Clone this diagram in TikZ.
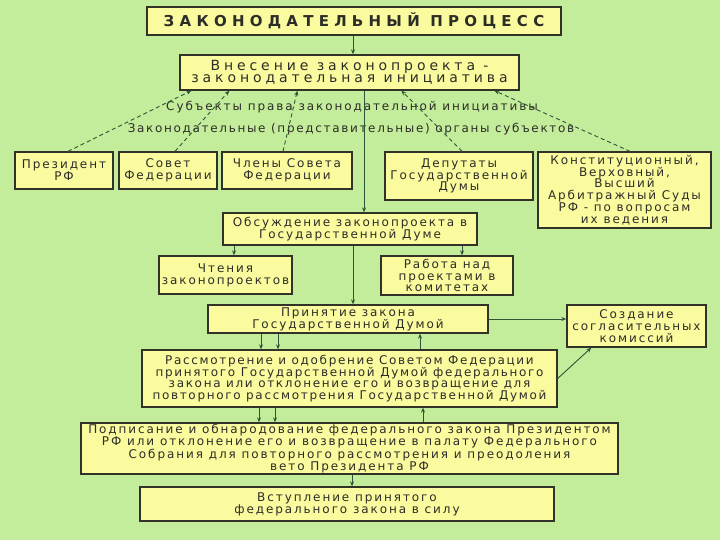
\documentclass[tikz,border=0pt]{standalone}
\usepackage{fontspec}
\setmainfont{DejaVu Sans}[LetterSpace=16]
\usetikzlibrary{arrows.meta,calc}
\definecolor{bg}{RGB}{195,236,155}
\definecolor{boxfill}{RGB}{250,250,158}
\definecolor{boxline}{RGB}{50,50,40}
\definecolor{conn}{RGB}{45,85,55}
\definecolor{txt}{RGB}{45,45,40}
\begin{document}
\begin{tikzpicture}[x=1pt,y=-1pt,
  box/.style={draw=boxline, fill=boxfill, line width=1.3pt, align=center, inner sep=0pt, text=txt, font=\fontsize{12}{11.8}\selectfont},
  lbl/.style={inner sep=0pt, text=txt, font=\fontsize{12}{12}\selectfont\addfontfeature{LetterSpace=16}},
  arr/.style={draw=conn, line width=0.9pt, -{Stealth[length=5pt,width=4pt]}},
  darr/.style={draw=conn, line width=0.9pt, dashed, dash pattern=on 4pt off 3pt, -{Stealth[length=5pt,width=4pt]}}]
\fill[bg] (0,0) rectangle (720,540);
\useasboundingbox (0,0) rectangle (720,540);

\node[box, minimum width=414pt, minimum height=28pt, font=\fontsize{15}{16}\selectfont\bfseries\addfontfeature{LetterSpace=35}] (title) at (354,21) {ЗАКОНОДАТЕЛЬНЫЙ ПРОЦЕСС};
\node[box, minimum width=339pt, minimum height=35pt, font=\fontsize{14}{12.5}\selectfont\addfontfeature{LetterSpace=28}] (vnes) at (349.5,72.5) {Внесение законопроекта -\\законодательная инициатива};

\node[lbl] (subj) at (352,107) {Субъекты права законодательной инициативы};
\node[lbl, font=\fontsize{12}{12}\selectfont\addfontfeature{LetterSpace=14}] (organ) at (351,129) {Законодательные (представительные) органы субъектов};

\node[box, minimum width=98pt, minimum height=37pt] (pres) at (64,170.5) {Президент\\РФ};
\node[box, minimum width=98pt, minimum height=37pt] (sovet) at (168,170.5) {Совет\\Федерации};
\node[box, minimum width=130pt, minimum height=37pt] (chleny) at (287,170.5) {Члены Совета\\Федерации};
\node[box, minimum width=148pt, minimum height=48pt] (deput) at (459,176) {Депутаты\\Государственной\\Думы};
\node[box, minimum width=173pt, minimum height=76pt] (konst) at (624.5,190) {Конституционный,\\Верховный,\\Высший\\Арбитражный Суды\\РФ - по вопросам\\их ведения};

\node[box, minimum width=254pt, minimum height=32pt] (obsuzh) at (350,229) {Обсуждение законопроекта в\\Государственной Думе};
\node[box, minimum width=133pt, minimum height=38pt] (chten) at (225.5,275) {Чтения\\законопроектов};
\node[box, minimum width=132pt, minimum height=39pt] (rabota) at (447,275.5) {Работа над\\проектами в\\комитетах};

\node[box, minimum width=280pt, minimum height=28pt] (prin) at (348,319) {Принятие закона\\Государственной Думой};
\node[box, minimum width=139pt, minimum height=42pt] (sozd) at (636.5,326) {Создание\\согласительных\\комиссий};

\node[box, minimum width=415pt, minimum height=57pt, font=\fontsize{12}{11.8}\selectfont\addfontfeature{LetterSpace=14}] (rassm) at (349.5,378.5) {Рассмотрение и одобрение Советом Федерации\\принятого Государственной Думой федерального\\закона или отклонение его и возвращение для\\повторного рассмотрения Государственной Думой};
\node[box, minimum width=537pt, minimum height=51pt] (podp) at (349.5,448.5) {Подписание и обнародование федерального закона Президентом\\РФ или отклонение его и возвращение в палату Федерального\\Собрания для повторного рассмотрения и преодоления\\вето Президента РФ};
\node[box, minimum width=414pt, minimum height=34pt] (vstup) at (347,504) {Вступление принятого\\федерального закона в силу};

% solid connectors
\draw[arr] ([xshift=-1pt]title.south) -- ([xshift=-1pt]title.south |- vnes.north);
\draw[arr] ([xshift=14.5pt]vnes.south) -- ([xshift=14.5pt]vnes.south |- obsuzh.north);
\draw[arr] ([xshift=3pt]obsuzh.south) -- ([xshift=3pt]obsuzh.south |- prin.north);
\draw[arr] ([xshift=8.5pt]chten.north |- obsuzh.south) -- ([xshift=8.5pt]chten.north);
\draw[arr] ([xshift=15pt]rabota.north |- obsuzh.south) -- ([xshift=15pt]rabota.north);
\draw[arr] (prin.east) -- (prin.east -| sozd.west);
\draw[arr] (rassm.east) -- ([xshift=25pt]sozd.south west);
\draw[arr] ([xshift=-87pt]prin.south) -- ([xshift=-87pt]prin.south |- rassm.north);
\draw[arr] ([xshift=-70pt]prin.south) -- ([xshift=-70pt]prin.south |- rassm.north);
\draw[arr] ([xshift=72pt]prin.south |- rassm.north) -- ([xshift=72pt]prin.south);
\draw[arr] ([xshift=-90.5pt]rassm.south) -- ([xshift=-90.5pt]rassm.south |- podp.north);
\draw[arr] ([xshift=-74.5pt]rassm.south) -- ([xshift=-74.5pt]rassm.south |- podp.north);
\draw[arr] ([xshift=73.5pt]rassm.south |- podp.north) -- ([xshift=73.5pt]rassm.south);
\draw[arr] ([xshift=2.5pt]podp.south) -- ([xshift=2.5pt]podp.south |- vstup.north);

% dashed connectors
\draw[darr] ([xshift=4pt]pres.north) -- ([xshift=12pt]vnes.south west);
\draw[darr] ([xshift=7pt]sovet.north) -- ([xshift=50pt]vnes.south west);
\draw[darr] ([xshift=-4pt]chleny.north) -- ([xshift=118pt]vnes.south west);
\draw[darr] ([xshift=3pt]deput.north) -- ([xshift=222pt]vnes.south west);
\draw[darr] ([xshift=5.5pt]konst.north) -- ([xshift=315pt]vnes.south west);
\end{tikzpicture}
\end{document}
